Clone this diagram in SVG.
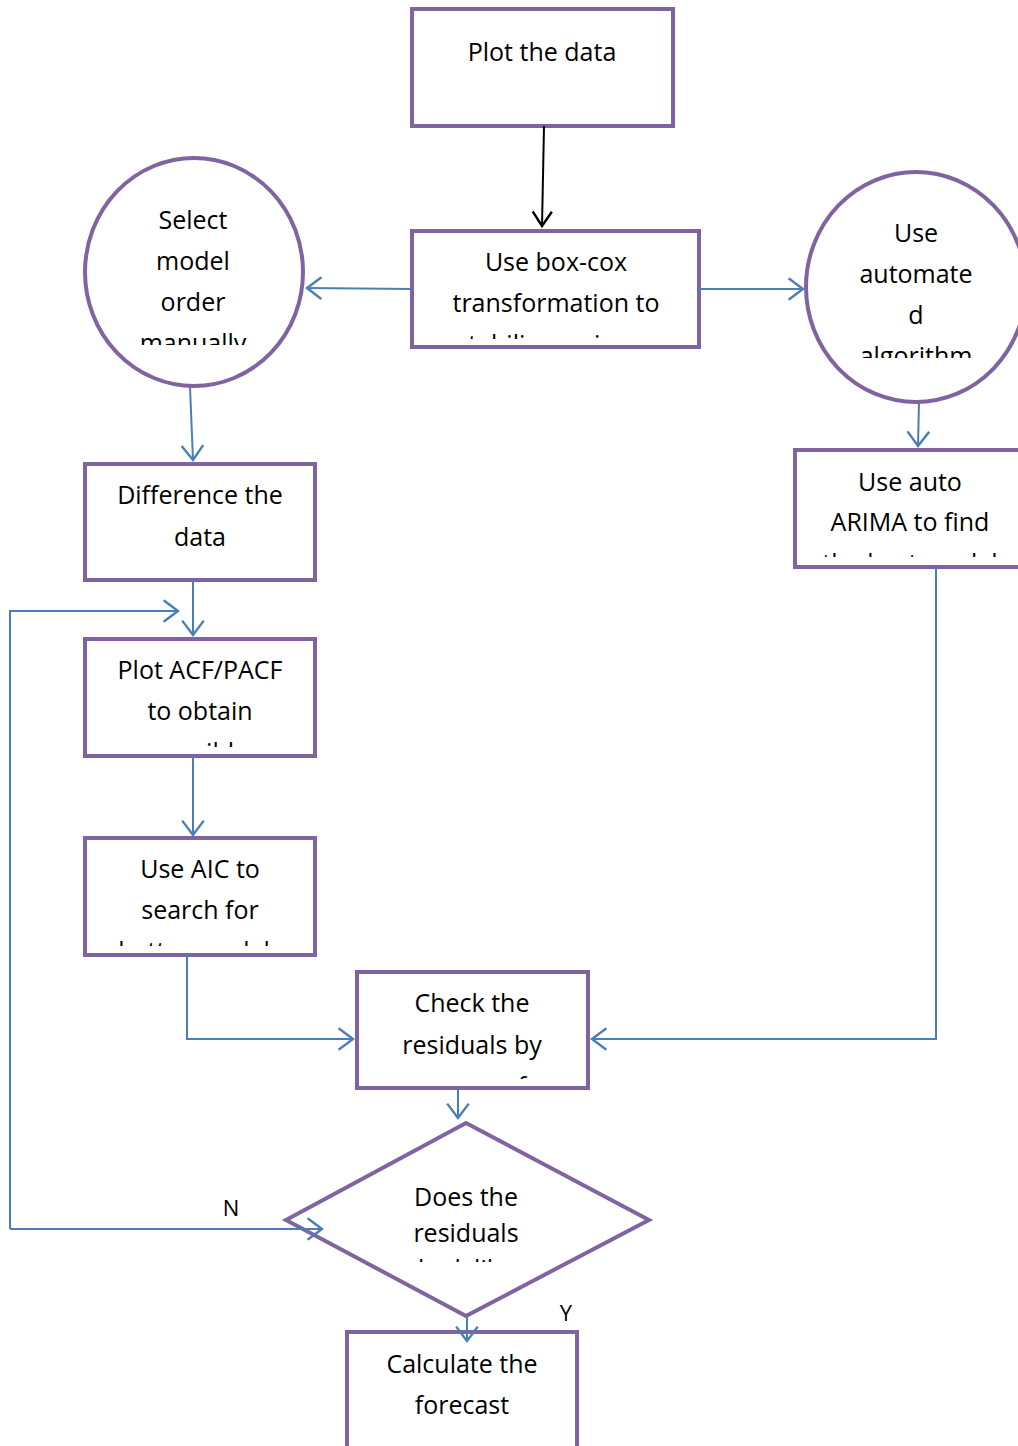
<svg xmlns="http://www.w3.org/2000/svg" width="1018" height="1446" viewBox="0 0 1018 1446">
<style>
.node{fill:#fff;stroke:#8064A2;stroke-width:4}
.t{font-family:"Open Sans","Liberation Sans",sans-serif;font-size:25px;fill:#000;text-anchor:middle}
.lbl{font-family:"Open Sans","Liberation Sans",sans-serif;font-size:22px;fill:#000;text-anchor:middle}
.c{fill:none;stroke:#4A7EBB;stroke-width:2}
.k{fill:none;stroke:#000;stroke-width:2}
</style>
<defs>
<marker id="ab" markerUnits="userSpaceOnUse" markerWidth="24" markerHeight="24" viewBox="-13 -10 15 20" refX="0" refY="0" orient="auto">
<path d="M-12,-9 L0,0 L-12,9" fill="none" stroke="#4A7EBB" stroke-width="2"/>
</marker>
<marker id="ak" markerUnits="userSpaceOnUse" markerWidth="24" markerHeight="24" viewBox="-13 -10 15 20" refX="0" refY="0" orient="auto">
<path d="M-12,-8 L0,0 L-12,8" fill="none" stroke="#000" stroke-width="2"/>
</marker>
<clipPath id="c2"><rect x="412" y="231" width="287" height="108"/></clipPath>
<clipPath id="cc1"><rect x="80" y="150" width="230" height="195"/></clipPath>
<clipPath id="cc2"><rect x="800" y="160" width="218" height="198"/></clipPath>
<clipPath id="c4"><rect x="795" y="450" width="223" height="107"/></clipPath>
<clipPath id="c5"><rect x="85" y="639" width="230" height="108"/></clipPath>
<clipPath id="c6"><rect x="85" y="838" width="230" height="108"/></clipPath>
<clipPath id="c7"><rect x="357" y="972" width="231" height="107"/></clipPath>
<clipPath id="c8"><rect x="286" y="1123" width="363" height="139"/></clipPath>
</defs>

<g id="plot-data">
<rect class="node" x="412" y="9" width="261" height="117"/>
<text class="t" x="542" y="61">Plot the data</text>
</g>

<g id="box-cox">
<rect class="node" x="412" y="231" width="287" height="116"/>
<text class="t" x="556" y="271">Use box-cox</text>
<text class="t" x="556" y="312">transformation to</text>
<text class="t" x="556" y="353" clip-path="url(#c2)">stabilize variance</text>
</g>

<g id="select-manual">
<ellipse class="node" cx="194" cy="272" rx="109" ry="114"/>
<text class="t" x="193" y="229">Select</text>
<text class="t" x="193" y="270">model</text>
<text class="t" x="193" y="311">order</text>
<text class="t" x="193" y="352" clip-path="url(#cc1)">manually</text>
</g>

<g id="automated">
<ellipse class="node" cx="916" cy="287" rx="110" ry="115"/>
<text class="t" x="916" y="242">Use</text>
<text class="t" x="916" y="283">automate</text>
<text class="t" x="916" y="324">d</text>
<text class="t" x="916" y="365" clip-path="url(#cc2)">algorithm</text>
</g>

<g id="difference">
<rect class="node" x="85" y="464" width="230" height="116"/>
<text class="t" x="200" y="504">Difference the</text>
<text class="t" x="200" y="546">data</text>
</g>

<g id="auto-arima">
<rect class="node" x="795" y="450" width="230" height="117"/>
<text class="t" x="910" y="491">Use auto</text>
<text class="t" x="910" y="531">ARIMA to find</text>
<text class="t" x="910" y="572" clip-path="url(#c4)">the best model</text>
</g>

<g id="acf-pacf">
<rect class="node" x="85" y="639" width="230" height="117"/>
<text class="t" x="200" y="679">Plot ACF/PACF</text>
<text class="t" x="200" y="720">to obtain</text>
<text class="t" x="200" y="761" clip-path="url(#c5)">possible</text>
</g>

<g id="aic">
<rect class="node" x="85" y="838" width="230" height="117"/>
<text class="t" x="200" y="878">Use AIC to</text>
<text class="t" x="200" y="919">search for</text>
<text class="t" x="200" y="960" clip-path="url(#c6)">better models</text>
</g>

<g id="check-residuals">
<rect class="node" x="357" y="972" width="231" height="116"/>
<text class="t" x="472" y="1012">Check the</text>
<text class="t" x="472" y="1054">residuals by</text>
<text class="t" x="472" y="1095" clip-path="url(#c7)">means of</text>
</g>

<g id="decision">
<polygon class="node" points="466,1123 649,1220 466,1316 286,1220"/>
<text class="t" x="466" y="1206">Does the</text>
<text class="t" x="466" y="1242">residuals</text>
<text class="t" x="466" y="1278" clip-path="url(#c8)">look like</text>
</g>

<g id="forecast">
<rect class="node" x="347" y="1332" width="230" height="130"/>
<text class="t" x="462" y="1373">Calculate the</text>
<text class="t" x="462" y="1414">forecast</text>
</g>

<g id="connectors">
<path class="k" d="M544,126 L542,226" marker-end="url(#ak)"/>
<path class="c" d="M412,289 L307,288" marker-end="url(#ab)"/>
<path class="c" d="M699,289 L803,289" marker-end="url(#ab)"/>
<path class="c" d="M190,387 L193,460" marker-end="url(#ab)"/>
<path class="c" d="M919,402 L918,446" marker-end="url(#ab)"/>
<path class="c" d="M193,580 L193,635" marker-end="url(#ab)"/>
<path class="c" d="M193,756 L193,835" marker-end="url(#ab)"/>
<path class="c" d="M187,955 L187,1039 L353,1039" marker-end="url(#ab)"/>
<path class="c" d="M936,567 L936,1039 L592,1039" marker-end="url(#ab)"/>
<path class="c" d="M458,1088 L458,1118" marker-end="url(#ab)"/>
<path class="c" d="M467,1316 L467,1341" marker-end="url(#ab)"/>
<path class="c" d="M10,1229 L322,1229" marker-end="url(#ab)"/>
<path class="c" d="M10,1229 L10,611 L178,611" marker-end="url(#ab)"/>
<text class="lbl" x="231" y="1216">N</text>
<text class="lbl" x="566" y="1321">Y</text>
</g>
</svg>
